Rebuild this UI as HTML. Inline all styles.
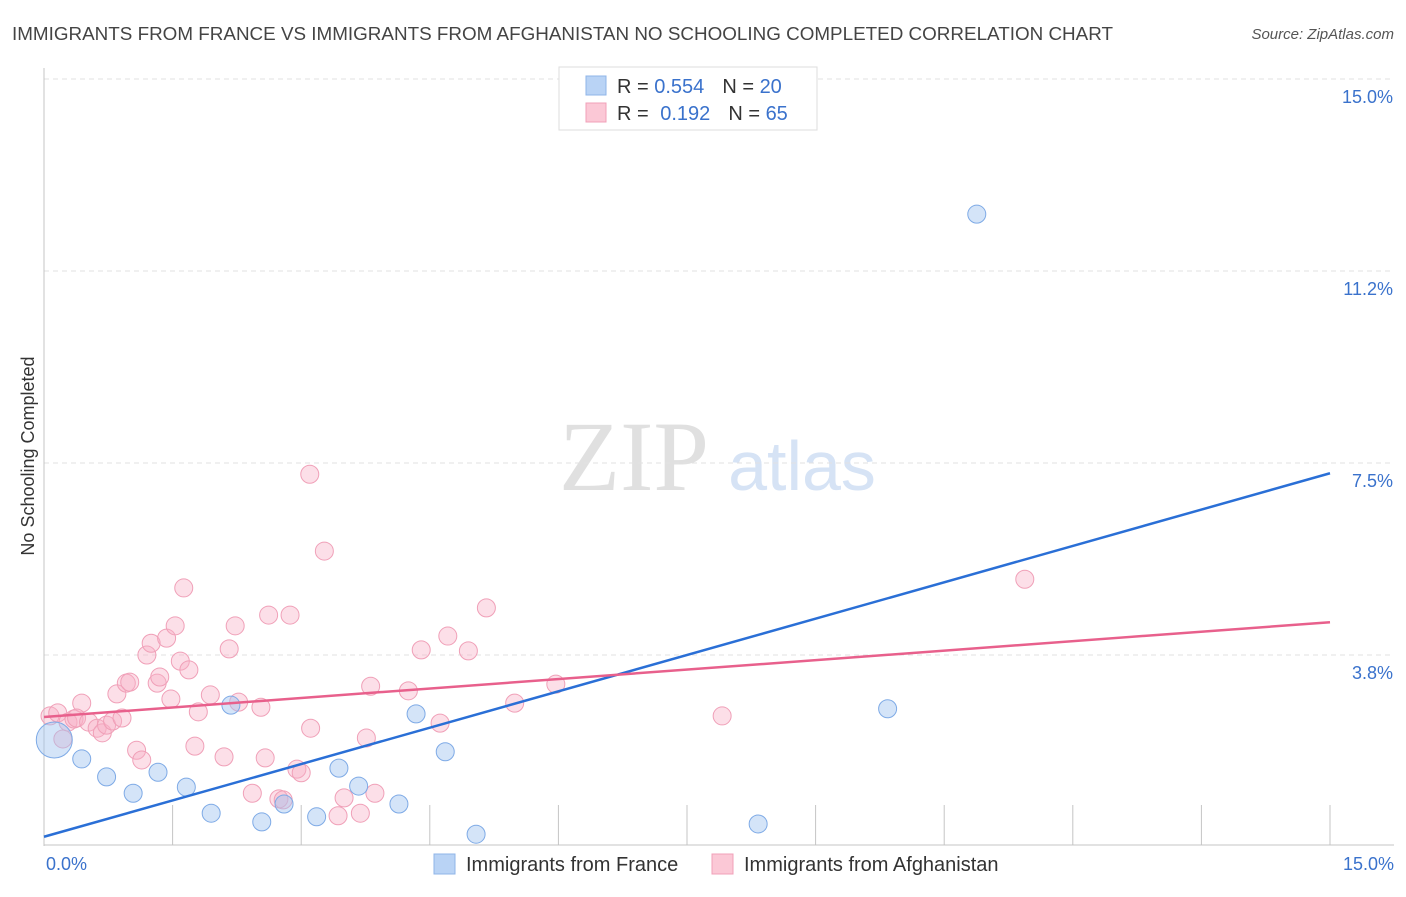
<!DOCTYPE html>
<html><head><meta charset="utf-8"><style>
body{margin:0;background:#fff;font-family:"Liberation Sans",sans-serif;}
</style></head><body>
<svg id="chart" width="1406" height="892" xmlns="http://www.w3.org/2000/svg" font-family="Liberation Sans, sans-serif">
<text x="12" y="40" font-size="18" fill="#444" textLength="1101" lengthAdjust="spacingAndGlyphs">IMMIGRANTS FROM FRANCE VS IMMIGRANTS FROM AFGHANISTAN NO SCHOOLING COMPLETED CORRELATION CHART</text>
<text x="1394" y="39" font-size="15" fill="#555" font-style="italic" text-anchor="end">Source: ZipAtlas.com</text>
<text x="0" y="0" transform="translate(34,456) rotate(-90)" font-size="18" fill="#333" text-anchor="middle">No Schooling Completed</text>
<g>
<text x="634" y="490" font-size="100" fill="#e0e0e0" style="font-family:'Liberation Serif',serif" text-anchor="middle">ZIP</text>
<text x="802" y="490" font-size="70" fill="#d6e3f5" text-anchor="middle">atlas</text>
</g>
<g id="grid"></g>
<g id="marks"></g>
<g>
<rect x="559" y="67" width="258" height="63" fill="#fff" stroke="#ddd"/>
<rect x="586" y="76" width="20" height="19" fill="#b9d3f5" stroke="#8fb4e8"/>
<rect x="586" y="103" width="20" height="19" fill="#fbc8d6" stroke="#f0a0b8"/>
<text x="617" y="93" font-size="20" fill="#333">R = <tspan fill="#3a72cc">0.554</tspan><tspan dx="18">N = </tspan><tspan fill="#3a72cc">20</tspan></text>
<text x="617" y="120" font-size="20" fill="#333">R = <tspan dx="6" fill="#3a72cc">0.192</tspan><tspan dx="18">N = </tspan><tspan fill="#3a72cc">65</tspan></text>
</g>
<g>
<rect x="434" y="854" width="21" height="20" fill="#b9d3f5" stroke="#8fb4e8"/>
<text x="466" y="871" font-size="20" fill="#333">Immigrants from France</text>
<rect x="712" y="854" width="21" height="20" fill="#fbc8d6" stroke="#f0a0b8"/>
<text x="744" y="871" font-size="20" fill="#333">Immigrants from Afghanistan</text>
</g>
</svg>
<script>
const yTicks=[3.75,7.5,11.25,15];
const yTickLabels=["3.8%","7.5%","11.2%","15.0%"];
const xTickLabels=["0.0%","15.0%"];
const franceX=[0.12,0.44,0.73,1.04,1.33,1.66,1.95,2.18,2.54,2.80,3.18,3.44,3.67,4.14,4.34,4.68,5.04,8.33,9.84,10.88];
const franceY=[2.09,1.72,1.37,1.05,1.46,1.17,0.66,2.77,0.49,0.84,0.59,1.54,1.19,0.84,2.60,1.86,0.25,0.45,2.70,12.36];
const afgX=[0.07,0.16,0.22,0.28,0.35,0.44,0.38,0.52,0.62,0.68,0.73,0.80,0.85,0.91,0.96,1.00,1.08,1.14,1.20,1.25,1.32,1.35,1.43,1.48,1.53,1.59,1.63,1.69,1.76,1.80,1.94,2.10,2.16,2.23,2.27,2.43,2.53,2.58,2.62,2.74,2.79,2.87,2.95,3.00,3.10,3.11,3.27,3.43,3.50,3.69,3.76,3.81,3.86,4.25,4.40,4.62,4.71,4.95,5.16,5.49,5.97,7.91,11.44];
const afgY=[2.56,2.62,2.11,2.44,2.50,2.81,2.52,2.44,2.32,2.23,2.38,2.46,2.99,2.52,3.20,3.22,1.89,1.70,3.75,3.98,3.20,3.32,4.08,2.89,4.32,3.63,5.06,3.46,1.97,2.64,2.97,1.76,3.87,4.32,2.83,1.05,2.73,1.74,4.53,0.94,0.92,4.53,1.52,1.45,7.28,2.32,5.78,0.61,0.96,0.66,2.13,3.14,1.05,3.05,3.85,2.42,4.12,3.83,4.67,2.81,3.18,2.56,5.23];
const franceTrend=[0.2,7.3];
const afgTrend=[2.54,4.39];
const NS="http://www.w3.org/2000/svg";
const X=v=>44+v/15*1286;
const Y=v=>847-v/15*768;
function mk(tag,attrs,parent){const e=document.createElementNS(NS,tag);for(const k in attrs)e.setAttribute(k,attrs[k]);parent.appendChild(e);return e;}
const grid=document.getElementById('grid');
const marks=document.getElementById('marks');
yTicks.forEach((t,i)=>{
  const l=mk('line',{x1:44,x2:1394,y1:Y(t),y2:Y(t),stroke:'#e2e2e2','stroke-dasharray':'5,4'},grid);
  
  
  const tx=mk('text',{x:1393,y:Y(t)+24,'font-size':18,fill:'#3a72cc','text-anchor':'end'},grid);
  tx.textContent=yTickLabels[i];
  
  
});
const ax=mk('line',{x1:44,x2:44,y1:68,y2:846,stroke:'#c4c4c4'},grid);


const bx=mk('line',{x1:44,x2:1394,y1:845,y2:845,stroke:'#c4c4c4'},grid);


for(let i=1;i<=10;i++){
  const xv=i*1.5;
  const tk=mk('line',{x1:X(xv),x2:X(xv),y1:805,y2:845,stroke:'#c4c4c4'},grid);
  
  
}
[[0,'start',46],[15,'end',1394]].forEach((d,i)=>{
  const t=mk('text',{x:d[2],y:870,'font-size':18,fill:'#3a72cc','text-anchor':d[1]},grid);
  t.textContent=xTickLabels[i];
  
  
});
afgX.forEach((x,i)=>{
  const c=mk('circle',{cx:X(x),cy:Y(afgY[i]),r:9,fill:'rgba(248,175,198,0.4)',stroke:'#f0a0b8','stroke-width':1},marks);
  
  
});
franceX.forEach((x,i)=>{
  const c=mk('circle',{cx:X(x),cy:Y(franceY[i]),r:i===0?18:9,fill:'rgba(160,196,240,0.45)',stroke:'#7eaae6','stroke-width':1},marks);
  
  
});
const tb=mk('line',{x1:X(0),y1:Y(franceTrend[0]),x2:X(15),y2:Y(franceTrend[1]),stroke:'#2a6fd6','stroke-width':2.5},marks);


const tp=mk('line',{x1:X(0),y1:Y(afgTrend[0]),x2:X(15),y2:Y(afgTrend[1]),stroke:'#e8608c','stroke-width':2.5},marks);


</script>
</body></html>
